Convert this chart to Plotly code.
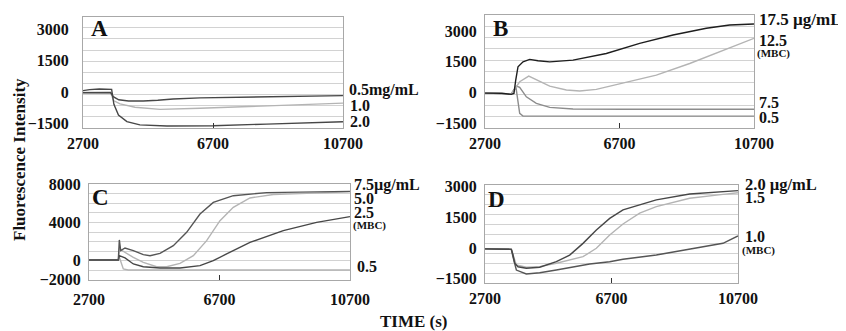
import plotly.graph_objects as go

# ---------------- data ----------------
# Panel A (mg/mL)
A_T_05 = [2700, 3000, 3300, 3550, 3630, 3800, 4100, 4550, 5000, 5470, 6300, 7300, 8400, 9400, 10700]
A_Y_05 = [-40, -30, -20, -30, -230, -380, -440, -440, -400, -340, -290, -260, -240, -230, -180]
A_T_10 = [2700, 3000, 3300, 3550, 3640, 3840, 4300, 5070, 6300, 7300, 8350, 9400, 10400, 10700]
A_Y_10 = [-30, -40, -40, -40, -420, -580, -740, -840, -790, -740, -680, -620, -550, -540]
A_T_20 = [2700, 2900, 3200, 3450, 3580, 3650, 3790, 4050, 4450, 5280, 6700, 8350, 10700]
A_Y_20 = [60, 110, 140, 130, 120, -600, -1110, -1430, -1590, -1640, -1630, -1550, -1440]

# Panel B (ug/mL)
B_T_175 = [2700, 3200, 3480, 3560, 3613, 3681, 3830, 4029, 4276, 4624, 5317, 6308, 7300, 8292, 9283, 9977, 10700]
B_Y_175 = [-40, -50, -100, -60, 600, 1250, 1490, 1610, 1540, 1490, 1575, 1900, 2390, 2800, 3130, 3290, 3340]
B_T_125 = [2700, 3480, 3600, 3731, 4000, 4226, 4624, 5119, 5515, 6010, 6804, 7795, 8788, 9778, 10700]
B_Y_125 = [-40, -80, 200, 514, 790, 600, 300, 110, 60, 140, 435, 840, 1410, 2060, 2640]
B_T_75 = [2700, 3480, 3631, 3731, 3929, 4226, 4624, 5317, 6804, 8788, 10700]
B_Y_75 = [-40, -80, 300, 240, -220, -540, -740, -820, -830, -830, -830]
B_T_05 = [2700, 3480, 3620, 3680, 3731, 3830, 5000, 7000, 10700]
B_Y_05 = [-40, -80, 240, -500, -1030, -1160, -1165, -1165, -1165]

# Panel C (ug/mL)
C_T_75 = [2700, 3500, 3598, 3629, 3671, 3803, 4058, 4364, 4570, 4876, 5284, 5693, 6102, 6510, 7123, 8145, 9167, 10700]
C_Y_75 = [0, 0, 0, 2120, 990, 1270, 990, 570, 460, 700, 1520, 2920, 4850, 6070, 6780, 7100, 7170, 7230]
C_T_50 = [2700, 3598, 3629, 3803, 4058, 4364, 4774, 5081, 5489, 5898, 6306, 6715, 7123, 7634, 8349, 9167, 10700]
C_Y_50 = [0, 0, 1170, 810, 280, -240, -700, -700, -350, 460, 2040, 4150, 5550, 6540, 6900, 7000, 7200]
C_T_25 = [2700, 3598, 3629, 3803, 4058, 4364, 4876, 5489, 6102, 6510, 6919, 7634, 8656, 9678, 10700]
C_Y_25 = [0, 0, 460, 220, -410, -700, -830, -830, -590, -60, 640, 1860, 3100, 3970, 4570]
C_T_05 = [2700, 3598, 3629, 3751, 3900, 5000, 7000, 9000, 10700]
C_Y_05 = [0, 0, 300, -940, -1040, -1050, -1050, -1050, -1050]

# Panel D (ug/mL)
D_T_20 = [2700, 3300, 3532, 3580, 3639, 3743, 4006, 4429, 4955, 5377, 5799, 6221, 6643, 7064, 8117, 9172, 10225, 10700]
D_Y_20 = [-40, -50, -60, -300, -740, -910, -985, -935, -660, -340, 230, 880, 1450, 1860, 2350, 2640, 2750, 2800]
D_T_15 = [2700, 3532, 3580, 3691, 4006, 4429, 4955, 5483, 5799, 6221, 6643, 7064, 7591, 8117, 9172, 10225, 10700]
D_Y_15 = [-40, -60, -300, -820, -935, -905, -740, -545, -420, -10, 640, 1175, 1700, 2020, 2430, 2620, 2700]
D_T_10 = [2700, 3532, 3580, 3691, 4006, 4429, 4955, 5483, 6010, 6643, 7064, 8117, 9172, 10225, 10700]
D_Y_10 = [-40, -60, -400, -1070, -1260, -1200, -1070, -935, -775, -665, -545, -335, -60, 235, 590]

X_TICKS = [2700, 6700, 10700]
Y_TICKS_ABD = [-1500, 0, 1500, 3000]
Y_TICKS_C = [-2000, 0, 4000, 8000]

# ---------------- figure ----------------
# The page body has an 8px default margin, so the figure is laid out in
# window pixels minus that offset.
OFF = 8
W, H = 846 - OFF, 331 - OFF
SERIF = "Liberation Serif, Times New Roman, serif"
DARK, DARKER, MID, LIGHT = "#474747", "#1e1e1e", "#8c8c8c", "#b4b4b4"

fig = go.Figure()

def add(t, y, color, ax):
    fig.add_trace(go.Scatter(x=t, y=y, mode="lines", line=dict(color=color, width=1.4),
                             xaxis="x" + ax, yaxis="y" + ax, hoverinfo="skip"))

add(A_T_10, A_Y_10, LIGHT, "")
add(A_T_05, A_Y_05, DARK, "")
add(A_T_20, A_Y_20, DARK, "")

add(B_T_05, B_Y_05, MID, "2")
add(B_T_75, B_Y_75, MID, "2")
add(B_T_125, B_Y_125, LIGHT, "2")
add(B_T_175, B_Y_175, DARKER, "2")

add(C_T_05, C_Y_05, LIGHT, "3")
add(C_T_50, C_Y_50, LIGHT, "3")
add(C_T_25, C_Y_25, DARK, "3")
add(C_T_75, C_Y_75, "#555555", "3")

add(D_T_15, D_Y_15, LIGHT, "4")
add(D_T_10, D_Y_10, "#555555", "4")
add(D_T_20, D_Y_20, DARK, "4")

# panel boxes in window pixels: (left, right, top, bottom), y-range, y ticks, y label standoff
panels = {
    "": ((83, 343, 16.7, 128), [-1739, 3622], Y_TICKS_ABD, 10),
    "2": ((485, 754, 15, 128), [-1747, 3781], Y_TICKS_ABD, 4),
    "3": ((89, 350, 184, 280), [-2100, 8010], Y_TICKS_C, 4),
    "4": ((485, 738, 185, 283), [-1702, 3076], Y_TICKS_ABD, 4),
}

def px(x):
    return (x - OFF) / W

def py(y):
    return 1 - (y - OFF) / H

tickfont = dict(family=SERIF, size=16, color="#111", weight="bold")
for ax, ((l, r, t, b), yr, yt, so) in panels.items():
    grid = [yr[0] + i * (yr[1] - yr[0]) / 10 for i in range(1, 10)]
    fig.layout["xaxis" + ax] = dict(
        domain=[px(l), px(r)], anchor="y" + ax, range=[2699, 10701], automargin=False,
        tickvals=X_TICKS, tickformat="d", showgrid=False, zeroline=False,
        ticks="inside", ticklen=5, tickcolor="#333", tickwidth=1,
        showline=True, mirror=True, linecolor="#a8a8a8", linewidth=1,
        tickfont=tickfont, ticklabelstandoff=1 if ax != "3" else 5,
    )
    fig.layout["yaxis" + ax] = dict(
        domain=[py(b), py(t)], anchor="x" + ax, range=yr, automargin=False,
        tickvals=yt, tickformat="d", showgrid=False, zeroline=False, ticks="",
        showline=True, mirror=True, linecolor="#a8a8a8", linewidth=1,
        tickfont=tickfont, ticklabelstandoff=so,
        minor=dict(tickmode="array", tickvals=grid, showgrid=True,
                   gridcolor="#d2d2d2", gridwidth=1, ticks=""),
    )

def label(x, y, text, size=16, anchor="left", angle=0):
    fig.add_annotation(x=px(x), y=py(y), xref="paper", yref="paper", text=text,
                       showarrow=False, xanchor=anchor, yanchor="middle", textangle=angle,
                       font=dict(family=SERIF, size=size, color="#111", weight="bold"))

# panel letters
label(99, 29, "A", 23, "center")
label(500, 29, "B", 23, "center")
label(100, 197, "C", 23, "center")
label(497, 199, "D", 23, "center")

# right-side concentration labels
label(347, 90, "0.5mg/mL")
label(348, 106, "1.0")
label(348, 121, "2.0")

label(757, 20, "17.5 µg/mL", 17)
label(757, 40, "12.5")
label(755, 53.5, "(MBC)", 11)
label(757, 102, "7.5")
label(757, 118, "0.5")

label(352, 185, "7.5µg/mL")
label(352, 198, "5.0")
label(352, 212, "2.5")
label(351, 225, "(MBC)", 11)
label(355, 266, "0.5")

label(743, 184, "2.0 µg/mL", 16.5)
label(743, 197, "1.5")
label(743, 236.5, "1.0")
label(740, 250.5, "(MBC)", 11)

# axis titles
label(19, 160, "Fluorescence Intensity", 17, "center", -90)
label(414, 321, "TIME (s)", 17, "center")

fig.update_layout(width=W, height=H, margin=dict(l=0, r=0, t=0, b=0),
                  plot_bgcolor="white", paper_bgcolor="white", showlegend=False)

fig.write_html("out.html")
